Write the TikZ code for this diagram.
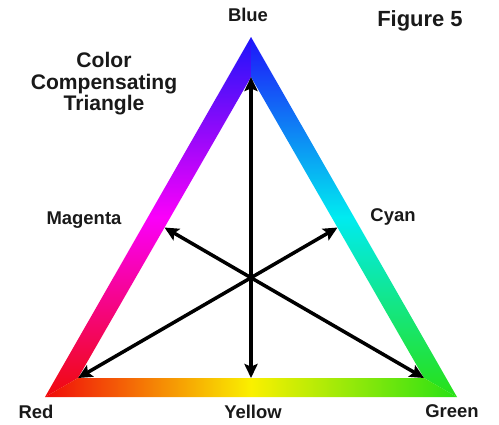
\documentclass[tikz,border=0pt]{standalone}
\usepackage{fontspec}
\setmainfont{Liberation Sans}
\usetikzlibrary{calc,arrows.meta}
\definecolor{ctRed}{RGB}{240,10,10}
\definecolor{ctBlue}{RGB}{30,20,250}
\definecolor{ctMagenta}{RGB}{250,0,250}
\definecolor{ctCyan}{RGB}{0,235,240}
\definecolor{ctGreen}{RGB}{40,225,20}
\definecolor{ctYellow}{RGB}{250,240,0}
\definecolor{ctText}{RGB}{25,25,25}

\begin{document}
\begin{tikzpicture}[x=0.02cm,y=-0.02cm,
  lbl/.style={text=ctText,font=\bfseries\fontsize{10.5}{12}\selectfont},
  ray/.style={line width=2pt,-{Stealth[length=8pt,width=7.5pt,inset=1.5pt]}}]
\useasboundingbox (0,0) rectangle (499,424);

% corners of the band, outside and inside
\coordinate (oB) at (251,37);
\coordinate (oR) at (45,397);
\coordinate (oG) at (457,397);
\coordinate (iB) at (251,77);
\coordinate (iR) at (78,378);
\coordinate (iG) at (424,378);

% the three coloured sides
\shade[bottom color=ctRed, top color=ctBlue, middle color=ctMagenta] (oR) -- (oB) -- (iB) -- (iR) -- cycle;
\shade[bottom color=ctGreen, top color=ctBlue, middle color=ctCyan] (oB) -- (oG) -- (iG) -- (iB) -- cycle;
\shade[left color=ctRed, right color=ctGreen, middle color=ctYellow] (oR) -- (oG) -- (iG) -- (iR) -- cycle;

% centre and mid points
\coordinate (O) at (251,277.7);
\coordinate (iM) at ($(iB)!0.5!(iR)$);
\coordinate (iC) at ($(iB)!0.5!(iG)$);
\coordinate (iY) at ($(iR)!0.5!(iG)$);
\foreach \t in {iB,iR,iG,iM,iC,iY}
  \draw[ray] (O) -- (\t);

\node[lbl] (blue) at (248,15) {Blue};
\node[lbl] (red) at (36,412) {Red};
\node[lbl] (green) at (452,411) {Green};
\node[lbl] (yellow) at (253,412) {Yellow};
\node[lbl] (magenta) at (84,220) {Magenta};
\node[lbl] (cyan) at (393,217) {Cyan};
\node[text=ctText,font=\bfseries\fontsize{12.5}{12.2}\selectfont] (fig) at (420,21) {Figure 5};
\node[text=ctText,font=\bfseries\fontsize{12}{12.2}\selectfont,align=center] (title) at (104,84) {Color\\Compensating\\Triangle};
\end{tikzpicture}
\end{document}
